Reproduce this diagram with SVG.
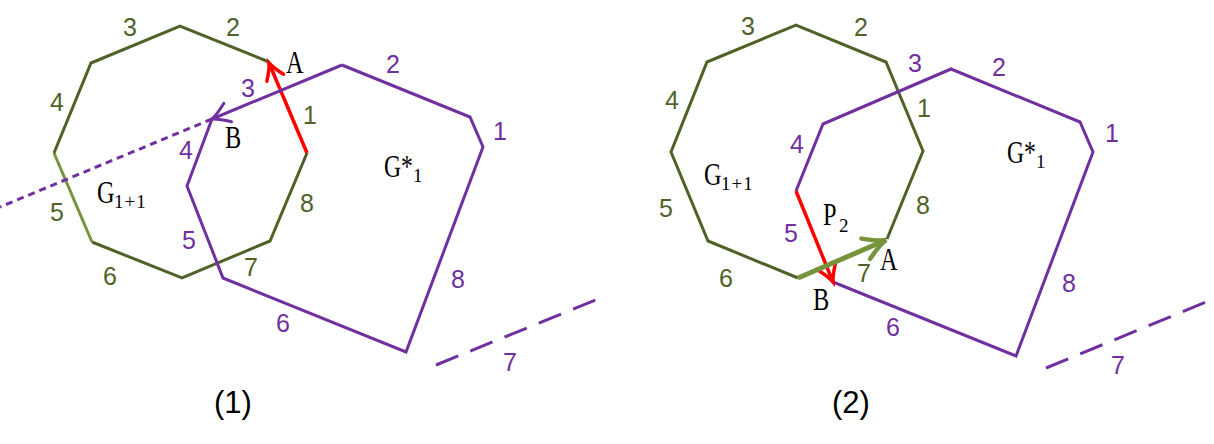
<svg xmlns="http://www.w3.org/2000/svg" width="1214" height="444" viewBox="0 0 1214 444">
<style>
.g{fill:none;stroke:#4f6228;stroke-width:3;stroke-linejoin:miter}
.gl{fill:none;stroke:#77933c;stroke-width:3}
.p{fill:none;stroke:#7030a0;stroke-width:3}
.r{fill:none;stroke:#ff0000;stroke-width:3.5}
.ga{fill:none;stroke:#77933c;stroke-width:5}
.dash{stroke-dasharray:24 13}
.dot{stroke-dasharray:7 5}
.n{font-family:"Liberation Sans",Arial,sans-serif;font-size:25px;text-anchor:middle}
.ng{fill:#4f6228}
.np{fill:#7030a0}
.s{font-family:"Liberation Serif","Times New Roman",serif;font-size:32px;fill:#000}
.sub{font-family:"Liberation Serif","Times New Roman",serif;font-size:19px;fill:#000}
.cap{font-family:"Liberation Sans",Arial,sans-serif;font-size:31px;fill:#000;text-anchor:middle}
</style>
<defs>
<marker id="mr" markerUnits="userSpaceOnUse" markerWidth="30" markerHeight="30" viewBox="-20 -15 24 30" refX="0" refY="0" orient="auto">
<path d="M-16,-9 Q-6,-2 0,0 Q-6,2 -16,9" fill="none" stroke="#ff0000" stroke-width="3.5" stroke-linecap="round"/>
</marker>
<marker id="mp" markerUnits="userSpaceOnUse" markerWidth="30" markerHeight="30" viewBox="-20 -15 24 30" refX="0" refY="0" orient="auto">
<path d="M-17,-10 Q-6,-2 0,0 Q-6,2 -17,10" fill="none" stroke="#7030a0" stroke-width="3" stroke-linecap="round"/>
</marker>
<marker id="mg" markerUnits="userSpaceOnUse" markerWidth="40" markerHeight="40" viewBox="-26 -20 30 40" refX="0" refY="0" orient="auto">
<path d="M-22,-11 Q-8,-2 0,0 Q-8,2 -22,11" fill="none" stroke="#77933c" stroke-width="4.5" stroke-linecap="round"/>
</marker>
</defs>

<g id="panel1">
<g id="p1-G11">
<polyline class="g" points="307,153 270,241 182,278 92,242"/>
<polyline class="gl" points="92,242 54,153"/>
<polyline class="g" points="54,153 91,63 180,26 269,62"/>
</g>
<g id="p1-G1star">
<polyline class="p" points="212,119 187,186 223,278 406,352 483,147 470,117 342,65"/>
</g>
<g id="p1-connectors">
<line class="r" x1="307" y1="153" x2="269" y2="63" marker-end="url(#mr)"/>
<line class="p" x1="342" y1="65" x2="212" y2="119" marker-end="url(#mp)"/>
<line class="p dot" x1="212" y1="119" x2="0" y2="207"/>
<line class="p dash" x1="436" y1="365" x2="598" y2="299"/>
</g>
<g id="p1-labels">
<text class="n ng" x="130" y="36">3</text>
<text class="n ng" x="233" y="36">2</text>
<text class="n ng" x="57" y="111">4</text>
<text class="n ng" x="57" y="221">5</text>
<text class="n ng" x="110" y="285">6</text>
<text class="n ng" x="251" y="276">7</text>
<text class="n ng" x="307" y="212">8</text>
<text class="n ng" x="310" y="124">1</text>
<text class="n np" x="248" y="97">3</text>
<text class="n np" x="186" y="159">4</text>
<text class="n np" x="189" y="249">5</text>
<text class="n np" x="393" y="73">2</text>
<text class="n np" x="283" y="332">6</text>
<text class="n np" x="458" y="288">8</text>
<text class="n np" x="500" y="140">1</text>
<text class="n np" x="510" y="371">7</text>
<text class="s" transform="translate(286,73) scale(0.76,1)">A</text>
<text class="s" transform="translate(225,148) scale(0.76,1)">B</text>
<text class="s" transform="translate(97,203) scale(0.76,1)">G</text>
<text class="sub" x="114" y="208" letter-spacing="1">1+1</text>
<text class="s" transform="translate(384,177) scale(0.74,1)">G*</text>
<text class="sub" x="413" y="182">1</text>
<text class="cap" x="233" y="413">(1)</text>
</g>
</g>

<g id="panel2">
<g id="p2-G11">
<polyline class="g" points="798,278 708,241 671,152 707,62 796,25 886,62 923,151 887,239"/>
</g>
<g id="p2-G1star">
<polyline class="p" points="796,191 823,124 951,69 1080,122 1093,152 1016,356 833,282"/>
</g>
<g id="p2-connectors">
<line class="r" x1="796" y1="191" x2="833" y2="282" marker-end="url(#mr)"/>
<line class="ga" x1="798" y1="278" x2="886" y2="240" marker-end="url(#mg)"/>
<line class="p dash" x1="1046" y1="368" x2="1206" y2="302"/>
</g>
<g id="p2-labels">
<text class="n ng" x="748" y="35">3</text>
<text class="n ng" x="861" y="36">2</text>
<text class="n ng" x="672" y="109">4</text>
<text class="n ng" x="666" y="217">5</text>
<text class="n ng" x="726" y="287">6</text>
<text class="n ng" x="864" y="282">7</text>
<text class="n ng" x="923" y="214">8</text>
<text class="n ng" x="924" y="117">1</text>
<text class="n np" x="915" y="72">3</text>
<text class="n np" x="797" y="153">4</text>
<text class="n np" x="791" y="242">5</text>
<text class="n np" x="999" y="76">2</text>
<text class="n np" x="893" y="336">6</text>
<text class="n np" x="1069" y="292">8</text>
<text class="n np" x="1112" y="142">1</text>
<text class="n np" x="1118" y="374">7</text>
<text class="s" transform="translate(880,270) scale(0.76,1)">A</text>
<text class="s" transform="translate(813,310) scale(0.76,1)">B</text>
<text class="s" transform="translate(823,225) scale(0.76,1)">P</text>
<text class="sub" x="839" y="232">2</text>
<text class="s" transform="translate(704,185) scale(0.76,1)">G</text>
<text class="sub" x="721" y="190" letter-spacing="1">1+1</text>
<text class="s" transform="translate(1007,163) scale(0.74,1)">G*</text>
<text class="sub" x="1036" y="168">1</text>
<text class="cap" x="851" y="413">(2)</text>
</g>
</g>
</svg>
